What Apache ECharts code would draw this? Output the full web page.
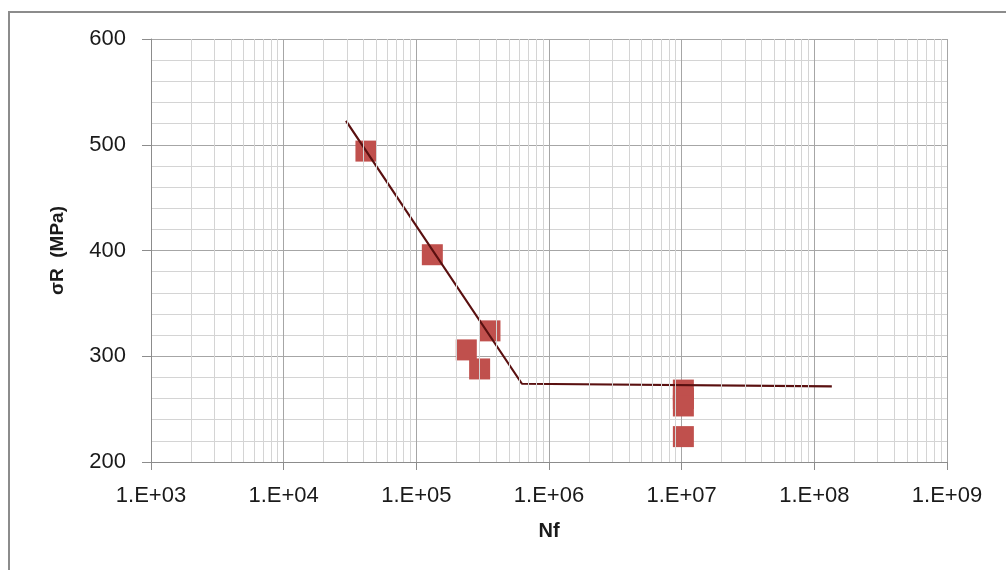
<!DOCTYPE html>
<html>
<head>
<meta charset="utf-8">
<script src="https://cdn.jsdelivr.net/npm/echarts@6/dist/echarts.min.js"></script>
<style>
  html, body { margin: 0; padding: 0; background: #fff; }
  #chart { width: 1006px; height: 570px; }
</style>
</head>
<body>
<div id="chart"></div>
<script>
// test results: cycles to failure vs stress amplitude
const nf = [41700, 132000, 359000, 238000, 300000, 10300000, 10300000, 10300000, 10300000];
const sigma = [494, 396, 324, 306, 288, 268, 260, 253, 224];

// fitted S-N curve (knee + plateau)
const trendNf = [29500, 625000, 135500000];
const trendSigma = [522.5, 274, 271.5];

// x decades for the log axis, minor grid inside each decade
const decades = [1e3, 1e4, 1e5, 1e6, 1e7, 1e8, 1e9];
const minorSteps = [2, 3, 4, 5, 6, 7, 8, 9];

const minorX = [];
decades.slice(0, -1).forEach(d => {
    minorSteps.forEach(m => minorX.push({ xAxis: d * m }));
});

const font = 'Liberation Sans';
const chart = echarts.init(document.getElementById('chart'));

chart.setOption({
    animation: false,
    textStyle: { fontFamily: font },
    graphic: [{
        type: 'rect',
        shape: { x: 9, y: 12, width: 1100, height: 700 },
        style: { fill: 'none', stroke: '#8c8c8c', lineWidth: 2 },
        silent: true,
        z: -10
    }],
    grid: {
        left: 151,
        top: 39,
        right: 59,
        bottom: 108
    },
    xAxis: {
        type: 'log',
        logBase: 10,
        min: decades[0],
        max: decades[decades.length - 1],
        splitNumber: 6,
        name: 'Nf',
        nameLocation: 'middle',
        nameGap: 59,
        nameTextStyle: { fontSize: 20, fontWeight: 'bold', color: '#1a1a1a' },
        axisLine: { lineStyle: { color: '#8c8c8c', width: 1 } },
        axisTick: { show: true, length: 8, lineStyle: { color: '#8c8c8c' } },
        axisLabel: {
            fontSize: 22,
            color: '#1a1a1a',
            margin: 23,
            formatter: v => '1.E+' + String(Math.round(Math.log10(v))).padStart(2, '0')
        },
        splitLine: { show: true, lineStyle: { color: '#a6a6a6', width: 1 } }
    },
    yAxis: {
        type: 'value',
        min: 200,
        max: 600,
        interval: 100,
        name: 'σR  (MPa)',
        nameLocation: 'middle',
        nameRotate: 90,
        nameGap: 84,
        nameTextStyle: { fontSize: 19, fontWeight: 'bold', color: '#1a1a1a' },
        axisLine: { show: true, lineStyle: { color: '#8c8c8c', width: 1 } },
        axisTick: { show: true, length: 9, lineStyle: { color: '#8c8c8c' } },
        axisLabel: { fontSize: 22, color: '#1a1a1a', margin: 25 },
        splitLine: { show: true, lineStyle: { color: '#a6a6a6', width: 1 } },
        minorTick: { show: false, splitNumber: 5 },
        minorSplitLine: { show: true, lineStyle: { color: '#d4d4d4', width: 1 } }
    },
    series: [
        {
            // minor vertical grid of the log axis
            type: 'scatter',
            data: [],
            z: 1,
            silent: true,
            markLine: {
                silent: true,
                symbol: 'none',
                label: { show: false },
                animation: false,
                lineStyle: { color: '#d4d4d4', width: 1, type: 'solid' },
                emphasis: { disabled: true },
                data: minorX
            }
        },
        {
            type: 'scatter',
            name: 'data',
            data: nf.map((x, i) => [x, sigma[i]]),
            symbol: 'rect',
            symbolSize: 21,
            itemStyle: { color: '#c0504d', opacity: 1 },
            z: 3
        },
        {
            type: 'line',
            name: 'fit',
            data: trendNf.map((x, i) => [x, trendSigma[i]]),
            showSymbol: false,
            lineStyle: { color: '#5a1010', width: 2.2 },
            z: 4
        }
    ]
});
</script>
</body>
</html>
